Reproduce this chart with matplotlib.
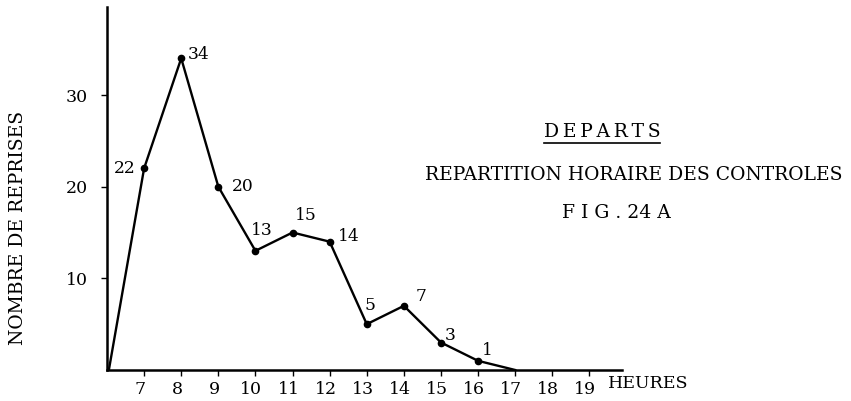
import matplotlib
matplotlib.use("Agg")
import matplotlib.pyplot as plt
from matplotlib.lines import Line2D
from matplotlib.transforms import ScaledTranslation

plt.rcParams['font.family'] = ['DejaVu Serif']

# heures et nombre de reprises
heures = [6.05, 7, 8, 9, 10, 11, 12, 13, 14, 15, 16, 17]
reprises = [0, 22, 34, 20, 13, 15, 14, 5, 7, 3, 1, 0]
etiquettes = ['', '22', '34', '20', '13', '15', '14', '5', '7', '3', '1', '']
heures_ticks = list(range(7, 20))
reprises_ticks = [10, 20, 30]

# decalage des etiquettes (pixels)
decalages = [(0, 0), (-19, 0), (17, 4), (24, 0), (6, 20), (13, 17),
             (19, 5), (3, 19), (17, 9), (9, 7), (9, 10), (0, 0)]

W, H = 851, 401
fig = plt.figure(figsize=(W / 100, H / 100), dpi=100)
ax = fig.add_axes([107 / W, 31 / H, (621.7 - 107) / W, (370 - 7) / H])

ax.plot(heures, reprises, color='black', lw=1.7)
ax.plot(heures[1:-1], reprises[1:-1], 'o', color='black', ms=4.5)

for x, y, txt, (dx, dy) in zip(heures, reprises, etiquettes, decalages):
    if txt:
        ax.annotate(txt, (x, y), xytext=(dx, dy), textcoords='offset pixels',
                    ha='center', va='center', fontsize=12.3)

ax.set_xlim(6, 19.87)
ax.set_ylim(0, 39.6)
ax.set_xticks(heures_ticks)
ax.set_xticklabels([str(h) for h in heures_ticks])
ax.set_yticks(reprises_ticks)
ax.set_yticklabels([str(r) for r in reprises_ticks])
ax.tick_params(axis='both', direction='out', length=4, width=1, labelsize=12.5)
ax.tick_params(axis='x', pad=4)
ax.tick_params(axis='y', pad=10)
for lab in ax.get_xticklabels():
    lab.set_transform(lab.get_transform() + ScaledTranslation(-4 / 100, 0, fig.dpi_scale_trans))

for s in ['top', 'right']:
    ax.spines[s].set_visible(False)
for s in ['left', 'bottom']:
    ax.spines[s].set_linewidth(1.8)

fig.text(18 / W, 1 - 228 / H, 'NOMBRE DE REPRISES', rotation=90,
         ha='center', va='center', fontsize=13.5)
fig.text(608 / W, 1 - 384 / H, 'HEURES', ha='left', va='center', fontsize=12.5)

t = fig.text(602 / W, 1 - 132 / H, 'D\u2009E\u2009P\u2009A\u2009R\u2009T\u2009S',
             ha='center', va='center', fontsize=13.5)
fig.text(634 / W, 1 - 175 / H, 'REPARTITION HORAIRE DES CONTROLES',
         ha='center', va='center', fontsize=13.5)
fig.text(616 / W, 1 - 213 / H, 'F I G . 24 A', ha='center', va='center', fontsize=13.5)

fig.canvas.draw()
bb = t.get_window_extent()
fig.add_artist(Line2D([bb.x0 / W, bb.x1 / W], [1 - 143 / H, 1 - 143 / H],
                      color='black', lw=1.2, transform=fig.transFigure))

fig.savefig('out.png', dpi=100)
